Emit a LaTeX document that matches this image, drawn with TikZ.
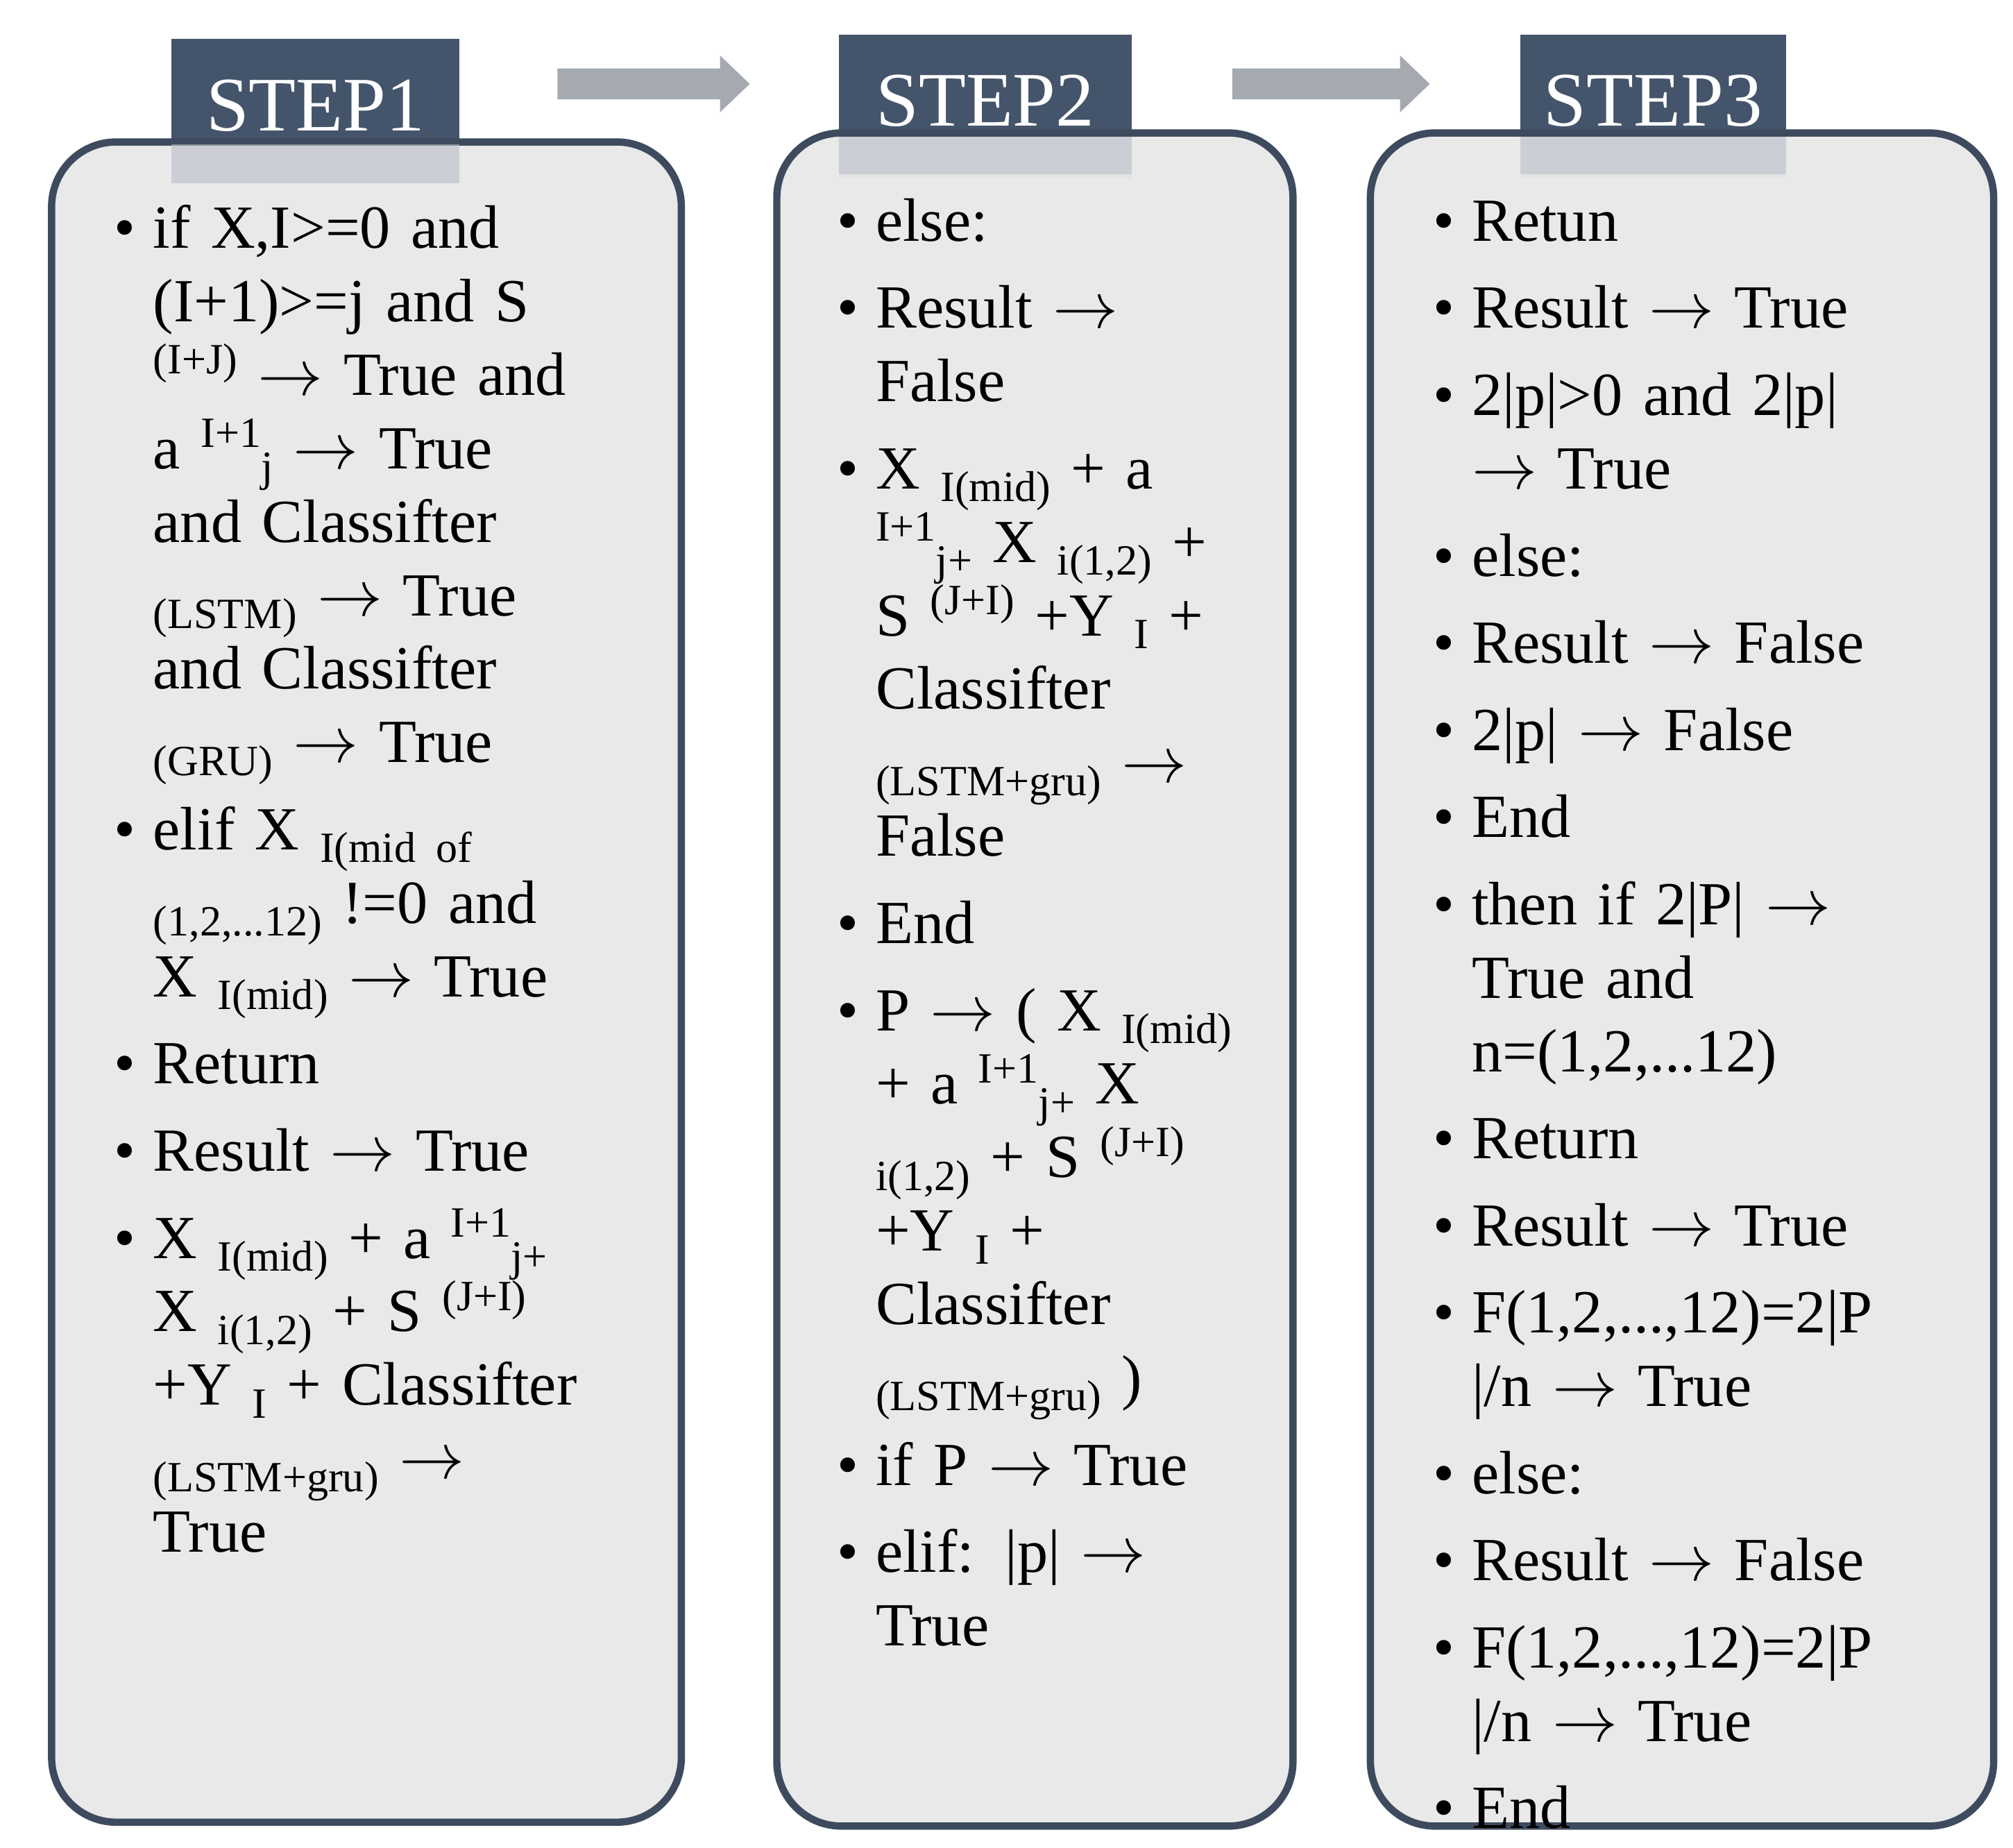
\documentclass[tikz,border=0pt]{standalone}
\usepackage{fontspec}
\setmainfont{Liberation Serif}
\definecolor{frame}{HTML}{3E4B5E}
\definecolor{tab}{HTML}{44546A}
\definecolor{boxfill}{HTML}{E7E7E7}
\definecolor{arr}{HTML}{A5AAB1}
\newcommand{\sbx}[1]{\raisebox{-0.45ex}{\fontsize{9.5}{10}\selectfont #1}}
\newcommand{\spx}[1]{\raisebox{0.75ex}{\fontsize{9.5}{10}\selectfont #1}}
\newcommand{\ar}{$\rightarrow$}
\newcommand{\bi}[1]{\noindent\hangindent=0.3cm\hangafter=1\makebox[0.3cm][l]{\textbullet}#1\par\vspace{3pt}}
\tikzset{
 panel/.style={draw=frame,line width=1.6pt,fill=boxfill,rounded corners=0.5cm},
 tabbox/.style={text=white,font=\fontsize{17}{17}\selectfont,inner sep=0pt},
 body/.style={anchor=north west,align=left,text width=4.4cm,inner sep=0pt,font=\fontsize{13.5}{16.2}\selectfont\raggedright},
 blkarrow/.style={fill=arr,draw=none}
}
\begin{document}
\begin{tikzpicture}[x=0.01cm,y=-0.01cm]
\useasboundingbox (0,0) rectangle (1560,1432);
% tabs
\fill[tab!35!white] (133,30) rectangle (356,142);
\fill[tab] (133,30) rectangle (356,112);
\node[tabbox] (t1) at (244.5,82) {STEP1};
\fill[tab!35!white] (650,27) rectangle (877,138);
\fill[tab] (650,27) rectangle (877,106);
\node[tabbox] (t2) at (763.5,78) {STEP2};
\fill[tab!35!white] (1178,27) rectangle (1384,138);
\fill[tab] (1178,27) rectangle (1384,106);
\node[tabbox] (t3) at (1281,78) {STEP3};
% arrows
\fill[blkarrow] (432,53) -- (558,53) -- (558,43) -- (581,65) -- (558,87) -- (558,77) -- (432,77) -- cycle;
\fill[blkarrow] (955,53) -- (1085,53) -- (1085,43) -- (1108,65) -- (1085,87) -- (1085,77) -- (955,77) -- cycle;
% panels
\draw[panel,fill opacity=0.9] (40,110) rectangle (528,1412);
\draw[panel,fill opacity=0.9] (602,103) rectangle (1002,1415);
\draw[panel,fill opacity=0.9] (1062,103) rectangle (1545,1415);
\fill[tab!35!white,opacity=0.6] (133,112) rectangle (356,142);
\fill[tab!35!white,opacity=0.6] (650,106) rectangle (877,135);
\fill[tab!35!white,opacity=0.6] (1178,106) rectangle (1384,135);
% texts
\node[body] (b1) at (88,158) {%
\bi{if X,I>=0 and\newline (I+1)>=j and S\newline \spx{(I+J)} \ar{} True and\newline a \spx{I+1}\sbx{j} \ar{} True\newline and Classifter\newline \sbx{(LSTM)} \ar{} True\newline and Classifter\newline \sbx{(GRU)} \ar{} True}
\bi{elif X \sbx{I(mid of}\newline \sbx{(1,2,...12)} !=0 and\newline X \sbx{I(mid)} \ar{} True}
\bi{Return}
\bi{Result \ar{} True}
\bi{X \sbx{I(mid)} + a \spx{I+1}\sbx{j+}\newline X \sbx{i(1,2)} + S \spx{(J+I)}\newline +Y \sbx{I} + Classifter\newline \sbx{(LSTM+gru)} \ar\newline True}};
\node[body] (b2) at (648,153) {%
\bi{else:}
\bi{Result \ar\newline False}
\bi{X \sbx{I(mid)} + a\newline \spx{I+1}\sbx{j+} X \sbx{i(1,2)} +\newline S \spx{(J+I)} +Y \sbx{I} +\newline Classifter\newline \sbx{(LSTM+gru)} \ar\newline False}
\bi{End}
\bi{P \ar{} ( X \sbx{I(mid)}\newline + a \spx{I+1}\sbx{j+} X\newline \sbx{i(1,2)} + S \spx{(J+I)}\newline +Y \sbx{I} +\newline Classifter\newline \sbx{(LSTM+gru)} )}
\bi{if P \ar{} True}
\bi{elif: |p| \ar\newline True}};
\node[body] (b3) at (1110,155) {%
\bi{Retun}
\bi{Result \ar{} True}
\bi{2|p|>0 and 2|p|\newline \ar{} True}
\bi{else:}
\bi{Result \ar{} False}
\bi{2|p| \ar{} False}
\bi{End}
\bi{then if 2|P| \ar\newline True and\newline n=(1,2,...12)}
\bi{Return}
\bi{Result \ar{} True}
\bi{F(1,2,...,12)=2|P\newline |/n \ar{} True}
\bi{else:}
\bi{Result \ar{} False}
\bi{F(1,2,...,12)=2|P\newline |/n \ar{} True}
\bi{End}};
\end{tikzpicture}
\end{document}
